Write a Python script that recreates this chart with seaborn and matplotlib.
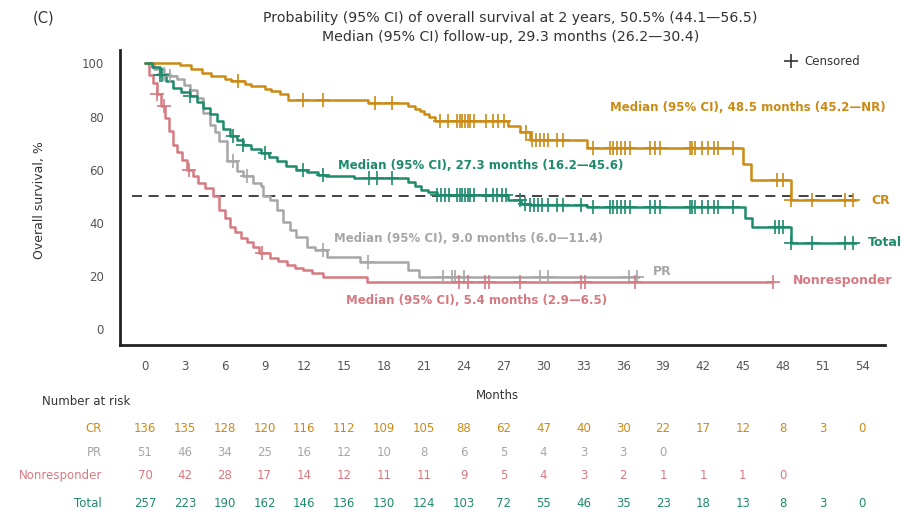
import numpy as np
import pandas as pd
import matplotlib
matplotlib.use("Agg")
import matplotlib.pyplot as plt
import matplotlib.transforms as mtransforms
import seaborn as sns

# ---------------- data ----------------
cr_t = [0, 2.6, 3.5, 4.3, 5.0, 6.0, 6.5, 7.5, 8.0, 9.0, 9.5, 10.2, 10.8, 16.8, 19.8, 20.3, 20.7,
        21.0, 21.4, 21.8, 27.3, 28.2, 29.0, 33.3, 45.0, 45.6, 48.6, 53.5]
cr_s = [100, 99.2, 97.7, 96.5, 95.2, 94.0, 93.3, 92.3, 91.4, 90.5, 89.5, 88.5, 86.4, 84.9, 84.0, 83.0,
        82.0, 80.9, 79.8, 78.2, 76.3, 74.0, 71.3, 68.0, 62.0, 56.2, 48.5, 48.5]
cr_cens = [7.0, 11.9, 13.4, 17.3, 18.6, 22.2, 22.8, 23.5, 23.7, 23.9, 24.1, 24.3, 24.5, 24.8, 25.7,
           26.2, 26.6, 27.0, 28.7, 29.1, 29.4, 29.7, 30.0, 30.3, 31.0, 31.5, 33.7, 35.0, 35.2, 35.5,
           35.8, 36.1, 36.5, 38.0, 38.4, 38.8, 41.0, 41.2, 41.4, 41.9, 42.4, 42.8, 43.1, 44.3, 47.6,
           48.0, 48.6, 50.2, 52.7, 53.3]

tot_t = [0, 0.5, 1.1, 1.6, 2.1, 2.7, 3.4, 3.9, 4.4, 4.9, 5.4, 5.9, 6.4, 6.9, 7.4, 8.0, 8.7, 9.3, 9.9,
         10.6, 11.4, 12.2, 13.0, 13.6, 15.7, 19.8, 20.3, 20.8, 21.3, 22.0, 27.3, 28.3, 29.0, 33.3,
         45.2, 45.7, 48.6, 53.5]
tot_s = [100, 98.5, 95.8, 93.2, 90.8, 89.3, 87.7, 85.5, 83.3, 80.8, 78.2, 75.4, 72.6, 71.0, 69.4, 67.8,
         66.3, 64.7, 63.1, 61.5, 60.0, 59.0, 58.1, 57.5, 56.9, 55.5, 54.0, 52.5, 51.5, 50.6, 48.5,
         47.0, 46.6, 45.8, 41.9, 38.6, 32.3, 32.3]
tot_cens = [1.1, 1.3, 3.4, 6.6, 7.4, 9.0, 11.9, 13.4, 16.9, 17.5, 18.6, 22.0, 22.3, 22.6, 22.9, 23.5,
            23.7, 23.9, 24.1, 24.3, 24.5, 24.8, 25.7, 26.2, 26.5, 26.9, 27.2, 28.2, 28.6, 29.0, 29.3,
            29.6, 29.9, 30.3, 31.0, 31.5, 32.8, 33.7, 35.0, 35.2, 35.5, 35.8, 36.1, 36.5, 38.0, 38.4,
            38.8, 41.0, 41.2, 41.4, 41.9, 42.4, 42.8, 43.1, 44.3, 47.4, 47.7, 48.0, 48.6, 50.2, 52.7, 53.3]

pr_t = [0, 0.7, 1.4, 1.9, 2.4, 2.9, 3.4, 3.9, 4.4, 4.9, 5.3, 5.6, 6.2, 6.9, 7.4, 8.1, 8.7, 8.9, 9.4,
        9.9, 10.4, 10.9, 11.4, 12.2, 12.8, 13.7, 16.2, 19.8, 20.6, 37.2]
pr_s = [100, 98.0, 96.1, 95.2, 94.1, 92.0, 90.0, 87.0, 81.4, 77.0, 74.0, 70.7, 63.1, 59.4, 57.5, 55.0,
        53.7, 50.0, 48.7, 44.9, 40.5, 37.4, 34.8, 31.0, 29.8, 27.3, 25.4, 22.3, 19.7, 19.7]
pr_cens = [1.4, 1.9, 6.6, 7.7, 13.4, 16.8, 22.4, 23.1, 23.3, 24.0, 29.7, 30.3, 36.4, 37.0]

nr_t = [0, 0.3, 0.6, 0.9, 1.2, 1.5, 1.8, 2.1, 2.4, 2.8, 3.2, 3.6, 4.0, 4.5, 5.1, 5.6, 6.0, 6.4, 6.8,
        7.2, 7.7, 8.1, 8.6, 9.4, 10.0, 10.7, 11.3, 11.9, 12.6, 13.4, 16.7, 47.3]
nr_s = [100, 95.8, 92.5, 88.5, 84.0, 79.6, 74.5, 69.4, 66.5, 63.5, 60.0, 57.5, 55.0, 53.0, 50.0, 45.0,
        42.0, 38.6, 36.5, 34.3, 32.7, 31.0, 28.8, 26.8, 25.5, 24.2, 23.0, 22.3, 21.0, 19.7, 17.9, 17.9]
nr_cens = [0.9, 1.4, 3.3, 8.8, 23.6, 24.3, 25.6, 25.9, 28.2, 32.8, 33.1, 36.9, 47.3]

risk_months = [0, 3, 6, 9, 12, 15, 18, 21, 24, 27, 30, 33, 36, 39, 42, 45, 48, 51, 54]
risk_cr = [136, 135, 128, 120, 116, 112, 109, 105, 88, 62, 47, 40, 30, 22, 17, 12, 8, 3, 0]
risk_pr = [51, 46, 34, 25, 16, 12, 10, 8, 6, 5, 4, 3, 3, 0]
risk_nr = [70, 42, 28, 17, 14, 12, 11, 11, 9, 5, 4, 3, 2, 1, 1, 1, 0]
risk_tot = [257, 223, 190, 162, 146, 136, 130, 124, 103, 72, 55, 46, 35, 23, 18, 13, 8, 3, 0]

C_CR = "#CB8A14"
C_PR = "#A6A6A6"
C_NR = "#D57A80"
C_TOT = "#1E8A6C"
TXT = "#333333"
TICKTXT = "#555555"

# ---------------- figure ----------------
sns.set_style("white")
plt.rcParams["font.family"] = ["DejaVu Sans"]

fig = plt.figure(figsize=(9.03, 5.16), dpi=100)
ax = fig.add_axes([0.1329, 0.331, 0.8471, 0.572])


def step_at(ts, ss, c):
    i = np.searchsorted(np.asarray(ts), c, side="right") - 1
    return np.asarray(ss)[i]


groups = [
    ("PR", pr_t, pr_s, pr_cens, C_PR),
    ("Nonresponder", nr_t, nr_s, nr_cens, C_NR),
    ("CR", cr_t, cr_s, cr_cens, C_CR),
    ("Total", tot_t, tot_s, tot_cens, C_TOT),
]

ax.plot([-1.0, 53.3], [50, 50], color="#222222", lw=1.2, ls=(0, (6, 4)), zorder=1)

for name, ts, ss, cens, col in groups:
    df = pd.DataFrame({"Months": ts, "Surv": ss})
    sns.lineplot(data=df, x="Months", y="Surv", drawstyle="steps-post", estimator=None,
                 sort=False, color=col, lw=1.8, ax=ax, zorder=3)
    cdf = pd.DataFrame({"Months": cens, "Surv": [step_at(ts, ss, c) for c in cens]})
    sns.scatterplot(data=cdf, x="Months", y="Surv", marker="+", s=100, color=col,
                    linewidth=1.2, ax=ax, zorder=4)

ax.set_xlim(-1.88, 55.7)
ax.set_ylim(-6, 105)
ax.set_xticks(risk_months)
ax.set_yticks([0, 20, 40, 60, 80, 100])
ax.set_xlabel("")
ax.set_ylabel("")
for s in ["top", "right"]:
    ax.spines[s].set_visible(False)
for s in ["left", "bottom"]:
    ax.spines[s].set_linewidth(2.0)
    ax.spines[s].set_color("#222222")
ax.tick_params(axis="both", direction="out", length=6.5, width=1.5, color="#222222",
               labelsize=8.5, labelcolor=TICKTXT)
ax.tick_params(axis="x", pad=4)
ax.tick_params(axis="y", pad=5)

# annotations
fw = "bold"
ax.text(35.0, 83.4, "Median (95% CI), 48.5 months (45.2\u2014NR)", color=C_CR, fontsize=8.5,
        fontweight=fw, va="center", ha="left")
ax.text(14.5, 61.5, "Median (95% CI), 27.3 months (16.2\u201445.6)", color=C_TOT, fontsize=8.5,
        fontweight=fw, va="center", ha="left")
ax.text(14.2, 34.3, "Median (95% CI), 9.0 months (6.0\u201411.4)", color=C_PR, fontsize=8.5,
        fontweight=fw, va="center", ha="left")
ax.text(15.1, 10.9, "Median (95% CI), 5.4 months (2.9\u20146.5)", color=C_NR, fontsize=8.5,
        fontweight=fw, va="center", ha="left")

ax.text(54.7, 48.3, "CR", color=C_CR, fontsize=9, fontweight=fw, va="center", ha="left", clip_on=False)
ax.text(54.4, 32.8, "Total", color=C_TOT, fontsize=9, fontweight=fw, va="center", ha="left", clip_on=False)
ax.text(38.2, 21.9, "PR", color=C_PR, fontsize=9, fontweight=fw, va="center", ha="left")
ax.text(48.8, 18.5, "Nonresponder", color=C_NR, fontsize=9, fontweight=fw, va="center", ha="left",
        clip_on=False)

# censored legend
ax.plot([48.6], [100.8], marker="+", ms=10, mew=1.2, color="#333333", clip_on=False)
ax.text(49.6, 100.8, "Censored", color=TXT, fontsize=8.5, va="center", ha="left")

# titles
fig.text(0.036, 0.965, "(C)", fontsize=10.5, color=TXT, va="center", ha="left")
fig.text(0.565, 0.965, "Probability (95% CI) of overall survival at 2 years, 50.5% (44.1\u201456.5)",
         fontsize=10.2, color=TXT, va="center", ha="center")
fig.text(0.565, 0.928, "Median (95% CI) follow-up, 29.3 months (26.2\u201430.4)",
         fontsize=10.2, color=TXT, va="center", ha="center")
fig.text(0.044, 0.612, "Overall survival, %", rotation=90, fontsize=9, color=TXT,
         va="center", ha="center")

# risk table
trans = mtransforms.blended_transform_factory(ax.transData, fig.transFigure)
ax.text(26.5, 0.233, "Months", transform=trans, fontsize=8.5, color=TXT, ha="center", va="center")
fig.text(0.0465, 0.221, "Number at risk", fontsize=8.5, color=TXT, ha="left", va="center")

rows = [("CR", risk_cr, C_CR, 0.169), ("PR", risk_pr, C_PR, 0.124),
        ("Nonresponder", risk_nr, C_NR, 0.079), ("Total", risk_tot, C_TOT, 0.025)]
for lab, vals, col, yy in rows:
    fig.text(0.113, yy, lab, fontsize=8.5, color=col, ha="right", va="center")
    for m, v in zip(risk_months, vals):
        ax.text(m, yy, str(v), transform=trans, fontsize=8.5, color=col, ha="center",
                va="center", clip_on=False)

fig.savefig("out.png", dpi=100)
